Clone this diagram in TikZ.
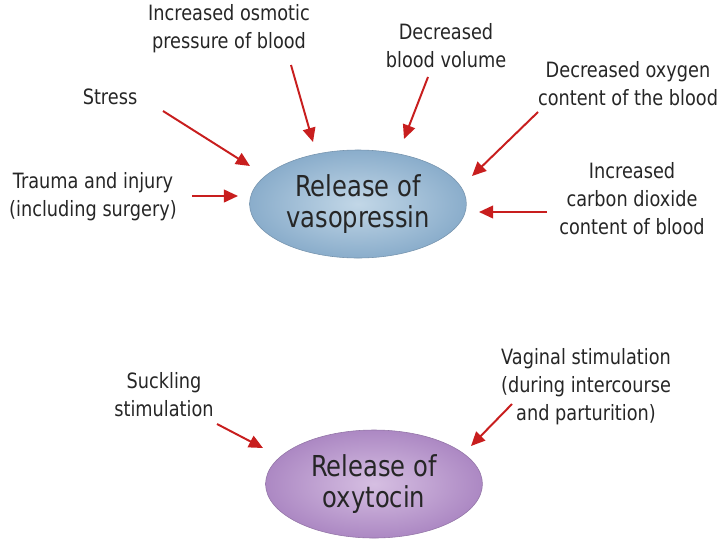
\documentclass[tikz,border=0pt]{standalone}
\usepackage{fontspec}
\setmainfont{DejaVu Sans}[FakeStretch=0.84]
\usetikzlibrary{positioning, arrows.meta, shapes.geometric}
\definecolor{aRed}{HTML}{C81E1E}
\definecolor{tGray}{HTML}{262626}
\definecolor{vBlue}{HTML}{8AADCB}
\definecolor{vBlueLt}{HTML}{C2D7E7}
\definecolor{oPurp}{HTML}{AC88C3}
\definecolor{oPurpLt}{HTML}{D6BFE2}

\begin{document}
\begin{tikzpicture}[
  x=0.025cm, y=-0.025cm,
  cause/.style={font=\fontsize{15}{20}\selectfont, align=center, text=tGray, inner sep=0pt},
  hormone/.style={ellipse, minimum width=5.42cm, minimum height=2.7cm, inner sep=0pt,
    align=center, font=\fontsize{20.5}{21.5}\selectfont, text=tGray},
  arr/.style={-{Triangle[length=10pt,width=9pt]}, draw=aRed, line width=1.4pt},
]
  \useasboundingbox (0,0) rectangle (720,540);

  % hormones
  \node[hormone, inner color=vBlueLt, outer color=vBlue, draw=vBlue!85!black, line width=0.4pt]
    (vaso) at (358,204) {Release of\\vasopressin};
  \node[hormone, inner color=oPurpLt, outer color=oPurp, draw=oPurp!85!black, line width=0.4pt]
    (oxy) at (374,484) {Release of\\oxytocin};

  % causes
  \node[cause] (osmotic) at (229,29) {Increased osmotic\\pressure of blood};
  \node[cause] (volume)  at (446,46) {Decreased\\blood volume};
  \node[cause] (oxygen)  at (628,84) {Decreased oxygen\\content of the blood};
  \node[cause] (stress)  at (110,97) {Stress};
  \node[cause] (trauma)  at (93,197) {Trauma and injury\\(including surgery)};
  \node[cause] (carbon)  at (632,199) {Increased\\carbon dioxide\\content of blood};
  \node[cause] (suckling) at (164,395) {Suckling\\stimulation};
  \node[cause] (vaginal)  at (586,387) {Vaginal stimulation\\(during intercourse\\and parturition)};

  % arrow ends
  \coordinate (s1) at (163,111);  \coordinate (e1) at (250,166);
  \coordinate (s2) at (291,65);   \coordinate (e2) at (313,142);
  \coordinate (s3) at (428,77);   \coordinate (e3) at (404,139);
  \coordinate (s4) at (538,112);  \coordinate (e4) at (472,176);
  \coordinate (s5) at (192,196);  \coordinate (e5) at (238,196);
  \coordinate (s6) at (547,212);  \coordinate (e6) at (479,212);
  \coordinate (s7) at (217,424);  \coordinate (e7) at (263,448);
  \coordinate (s8) at (512,404);  \coordinate (e8) at (471,446);

  \foreach \i in {1,...,8}
    \draw[arr] (s\i) -- (e\i);
\end{tikzpicture}
\end{document}
